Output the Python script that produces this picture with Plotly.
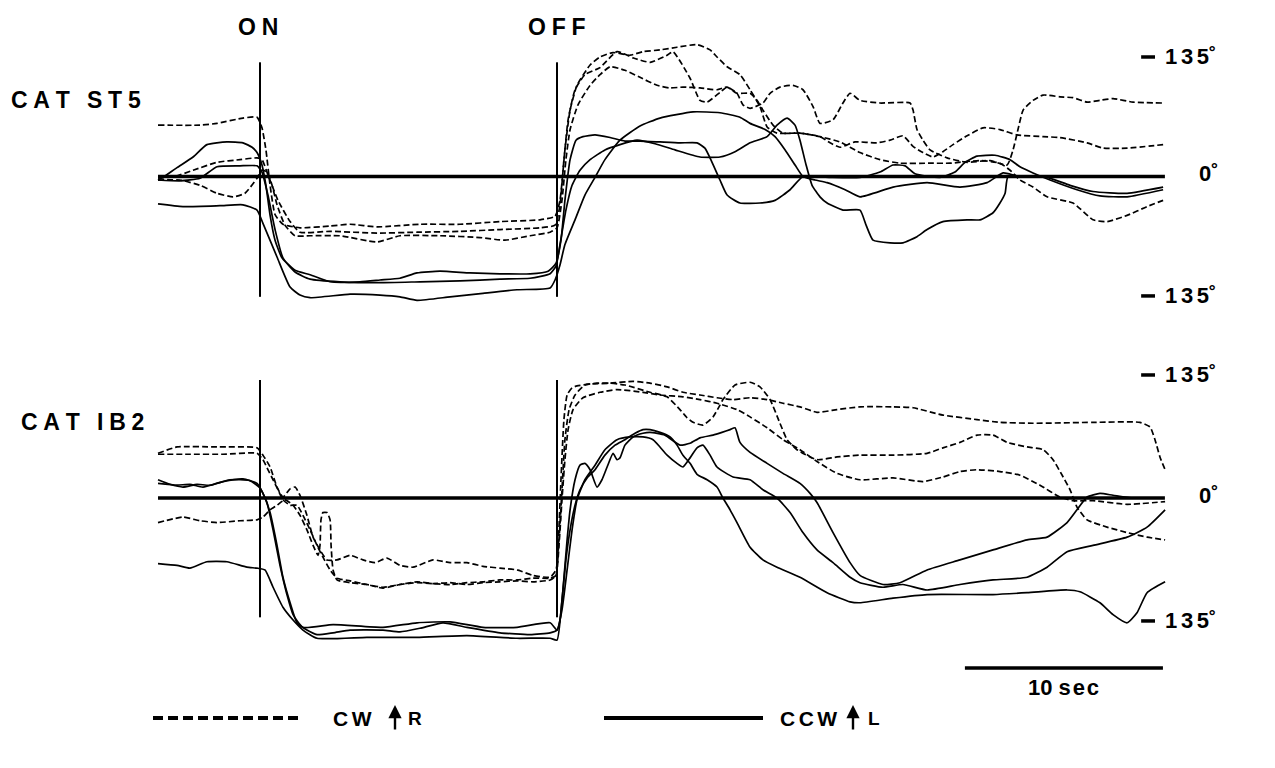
import plotly.graph_objects as go

# ---------------- data (time in s from stimulus ON, head angle in degrees) ----------------
ON_T, OFF_T = 0.0, 15.0
SCALE_BAR_S = 10.0
REC_START, REC_END = -5.15, 45.7

# CAT ST5 - CW (dashed)
st5_cw1 = [(-5.15,58),(-3.03,58),(-2.17,60),(-0.86,66),(-0.15,67),(0.10,55),(0.30,30),(0.51,-10),(0.76,-43),(1.16,-54),
           (2.02,-58),(3.54,-56),(4.55,-54),(5.91,-57),(8.08,-54),(10.10,-54),(12.12,-51),(14.14,-49),(14.90,-45),(15.15,-27),
           (15.40,30),(15.66,75),(16.01,103),(16.67,126),(17.17,135),(17.83,140),(18.69,137),(19.34,141),(20.20,143),(21.06,146),
           (22.07,149),(22.73,143),(23.08,135),(23.59,124),(24.24,115),(24.75,98),(25.25,79),(25.61,56),(26.11,49),(27.27,49),
           (28.28,45),(29.29,39),(30.30,27),(31.31,19),(32.32,15),(33.84,15),(34.85,15),(36.36,18),(37.37,15),(37.88,7),
           (38.38,-4),(39.04,-12),(39.75,-23),(41.06,-30),(42.07,-49),(42.78,-51),(43.79,-44),(44.80,-34),(45.61,-27)]
st5_cw2 = [(-5.15,-2),(-4.29,0),(-3.38,7),(-2.17,16),(-1.01,19),(-0.15,21),(0.10,19),(0.40,2),(0.91,-27),(1.52,-51),
           (2.02,-63),(3.54,-62),(5.91,-64),(7.93,-63),(10.10,-62),(12.12,-60),(14.14,-58),(14.90,-55),(15.15,-32),(15.35,19),
           (15.56,64),(15.91,98),(16.41,115),(17.17,123),(18.03,141),(18.84,134),(19.70,129),(20.56,137),(20.86,141),(21.72,111),
           (22.22,86),(22.58,84),(23.23,95),(23.59,101),(24.09,94),(24.39,81),(24.75,77),(25.40,83),(25.76,94),(26.26,101),
           (26.92,103),(27.42,98),(27.93,79),(28.28,60),(28.94,64),(29.44,83),(29.80,94),(30.30,86),(31.31,83),(32.83,83),
           (32.98,75),(33.18,53),(33.48,41),(33.84,30),(34.70,21),(35.71,16),(36.87,18),(37.73,13),(38.03,30),(38.28,53),
           (38.54,75),(39.04,86),(39.55,92),(40.40,90),(41.06,89),(41.77,84),(42.42,86),(43.08,88),(44.09,84),(45.61,83)]
st5_cw3 = [(-5.15,-4),(-4.04,-4),(-3.03,-10),(-2.17,-19),(-1.36,-23),(-0.76,-19),(-0.15,-2),(0.10,7),(0.35,5),(0.61,-10),
           (0.86,-32),(1.26,-55),(1.77,-67),(2.53,-67),(4.04,-67),(5.91,-74),(7.07,-67),(9.09,-67),(11.11,-69),(12.37,-72),
           (13.64,-67),(14.65,-63),(15.0,-58),(15.25,-27),(15.45,19),(15.66,53),(16.06,81),(16.67,103),(17.17,115),(17.68,124),
           (18.43,120),(19.19,112),(20.05,103),(20.71,100),(21.36,101),(22.22,100),(23.08,98),(23.59,101),(24.09,94),(24.75,94),
           (25.10,86),(25.40,75),(25.91,58),(26.41,49),(27.27,49),(28.28,45),(28.79,38),(29.29,33),(30.05,39),(31.16,38),
           (31.82,41),(32.47,46),(32.98,34),(33.48,27),(33.99,22),(34.49,28),(35.0,36),(35.71,46),(36.52,55),(37.37,53),
           (38.23,47),(39.55,45),(40.40,44),(41.77,38),(42.58,32),(43.79,32),(45.61,36)]

# CAT ST5 - CCW (solid)
st5_ccw1 = [(-5.15,-4),(-4.9,-1),(-4.19,10),(-3.38,22),(-2.68,36),(-1.67,39),(-0.86,38),(-0.40,33),(-0.15,27),(0.10,13),
            (0.30,-10),(0.51,-44),(0.76,-72),(1.11,-92),(1.77,-106),(2.53,-111),(3.54,-119),(5.05,-119),(6.06,-117),(7.07,-115),
            (7.93,-109),(9.09,-107),(10.61,-109),(12.12,-110),(13.64,-110),(14.55,-107),(14.95,-98),(15.20,-72),(15.40,-27),(15.66,19),
            (15.96,41),(16.31,45),(16.92,47),(17.68,44),(18.43,40),(19.19,40),(20.20,39),(21.21,38),(22.07,38),(22.47,32),
            (22.83,16),(23.23,-4),(23.59,-21),(24.24,-30),(25.25,-30),(26.01,-27),(26.77,-15),(27.42,0),(28.79,-1),(30.30,-1),
            (31.31,5),(31.97,13),(32.58,12),(33.08,3),(34.34,-1),(35.10,5),(35.61,16),(36.21,23),(37.12,24),(37.88,19),
            (38.38,11),(39.04,4),(39.90,-4),(41.26,-15),(42.42,-22),(43.79,-23),(45.61,-15)]
st5_ccw2 = [(-5.15,-4),(-4.04,-5),(-3.03,-2),(-2.17,11),(-1.01,12),(-0.15,12),(0.10,5),(0.40,-21),(0.76,-60),(1.16,-92),
            (1.77,-108),(2.53,-116),(4.04,-119),(6.06,-120),(8.08,-119),(10.10,-118),(12.12,-116),(13.64,-115),(14.65,-110),(14.95,-101),
            (15.15,-77),(15.45,-38),(15.76,-10),(16.16,7),(16.67,19),(17.42,30),(18.18,36),(19.04,41),(19.95,37),(20.96,30),
            (22.22,22),(23.23,22),(23.99,28),(24.75,38),(25.61,45),(26.11,58),(26.62,66),(27.02,58),(27.27,41),(27.58,13),
            (27.88,-10),(28.28,-23),(28.64,-30),(29.44,-38),(30.30,-38),(30.61,-55),(30.96,-72),(31.82,-75),(32.47,-75),(33.18,-68),
            (33.69,-60),(34.49,-51),(35.71,-49),(36.36,-49),(37.02,-41),(37.37,-30),(37.63,-19),(37.78,0),(38.89,0),(39.75,-1),
            (40.91,-10),(42.07,-17),(43.79,-19),(45.61,-12)]
st5_ccw3 = [(-5.15,-31),(-3.89,-34),(-2.02,-33),(-0.86,-32),(-0.15,-38),(0.15,-53),(0.86,-91),(1.52,-125),(2.02,-134),(2.53,-137),
            (4.55,-133),(6.06,-134),(7.07,-136),(7.93,-140),(9.60,-136),(11.26,-132),(12.98,-128),(14.65,-126),(14.90,-117),(15.15,-100),
            (15.40,-77),(15.91,-49),(16.41,-21),(16.92,-1),(17.42,19),(18.18,41),(19.19,57),(20.20,66),(21.87,73),(23.23,72),
            (24.24,67),(24.75,60),(25.51,53),(26.01,45),(26.52,30),(27.02,13),(27.42,0),(28.03,-4),(28.64,-7),(29.55,-15),
            (30.30,-23),(31.97,-12),(33.69,-7),(35.35,-12),(36.72,-7),(37.53,4),(38.38,0),(45.61,0)]

# CAT IB2 - CW (dashed)
ib2_cw1 = [(-5.15,49),(-4.19,56),(-2.17,56),(-0.15,55),(0.15,47),(0.51,34),(0.86,12),(1.16,1),(1.52,10),(1.77,12),
           (2.02,3),(2.37,-19),(2.68,-43),(3.03,-57),(3.38,-68),(3.89,-68),(4.55,-63),(5.20,-68),(5.81,-71),(6.41,-66),
           (7.07,-74),(7.73,-76),(8.74,-68),(9.60,-71),(10.45,-71),(11.26,-75),(12.12,-77),(12.98,-79),(13.79,-85),(14.65,-87),
           (14.95,-79),(15.10,-46),(15.25,9),(15.40,64),(15.61,97),(15.91,113),(16.41,124),(17.02,126),(17.68,126),(18.43,124),
           (19.70,116),(20.56,111),(21.21,97),(21.57,88),(21.87,83),(22.37,80),(22.88,89),(23.23,102),(23.38,108),(23.99,124),
           (24.75,127),(25.25,122),(25.76,108),(26.26,82),(26.62,64),(27.12,53),(28.13,42),(29.14,45),(30.30,47),(31.97,47),
           (33.69,49),(34.49,55),(35.35,61),(36.21,69),(37.02,69),(37.73,61),(38.74,56),(39.55,53),(40.05,42),(40.56,23),
           (40.91,9),(41.26,-10),(41.77,-24),(42.78,-32),(43.79,-38),(44.80,-43),(45.71,-46)]
ib2_cw2 = [(-5.15,48),(-3.54,48),(-1.87,48),(-0.15,49),(0.15,42),(0.40,31),(0.66,20),(0.91,9),(1.16,-2),(1.52,-8),
           (1.87,-8),(2.17,-19),(2.53,-35),(2.88,-52),(3.18,-65),(3.54,-79),(3.89,-88),(4.55,-91),(5.40,-95),(6.21,-98),
           (7.07,-95),(7.93,-93),(8.74,-94),(9.60,-95),(10.45,-93),(11.26,-92),(12.12,-90),(12.98,-90),(13.79,-88),(14.65,-88),
           (14.95,-85),(15.05,-57),(15.20,20),(15.35,86),(15.51,113),(15.76,121),(16.01,123),(16.67,125),(17.68,126),(18.84,128),
           (19.70,126),(20.56,122),(21.36,116),(22.22,113),(23.08,110),(23.89,108),(24.75,110),(25.61,108),(26.41,104),(27.27,100),
           (28.13,94),(29.14,97),(30.30,100),(31.97,100),(32.98,99),(34.49,91),(36.21,86),(37.37,83),(39.04,82),(42.07,83),
           (44.44,83),(44.95,78),(45.20,64),(45.45,45),(45.71,31)]
ib2_cw3 = [(-5.15,-27),(-3.89,-21),(-3.03,-25),(-2.17,-27),(-1.01,-25),(-0.15,-24),(0.15,-21),(0.51,-13),(0.86,-8),(1.26,-2),
           (1.67,-8),(2.02,-19),(2.37,-35),(2.68,-52),(2.93,-63),(3.03,-52),(3.08,-24),(3.18,-16),(3.38,-16),(3.54,-24),
           (3.59,-52),(3.69,-79),(3.89,-90),(4.55,-93),(5.40,-95),(6.21,-99),(7.07,-95),(7.93,-92),(8.74,-94),(9.60,-93),
           (10.45,-95),(11.26,-93),(12.12,-92),(12.98,-91),(13.79,-92),(14.65,-90),(14.95,-85),(15.10,-52),(15.25,-2),(15.40,42),
           (15.56,75),(15.81,97),(16.31,110),(17.17,116),(18.03,119),(19.34,116),(20.20,113),(21.36,111),(22.22,108),(23.08,104),
           (24.09,97),(24.75,89),(25.61,77),(26.41,64),(27.27,53),(28.13,40),(29.14,27),(30.30,20),(31.97,22),(33.48,18),
           (34.49,23),(35.35,29),(36.21,31),(37.37,29),(38.38,25),(39.39,14),(40.40,1),(41.06,-3),(42.07,-3),(43.79,-7),
           (45.71,-4)]

# CAT IB2 - CCW (solid)
ib2_ccw1 = [(-5.15,16),(-4.19,14),(-3.54,15),(-2.88,12),(-1.87,18),(-0.86,21),(-0.15,16),(0.15,5),(0.51,-16),(0.86,-52),
            (1.16,-87),(1.52,-115),(1.87,-137),(2.37,-145),(2.88,-150),(3.69,-148),(4.55,-145),(6.21,-145),(7.07,-147),(8.08,-143),
            (9.24,-137),(10.45,-142),(12.12,-148),(13.64,-150),(14.65,-148),(15.0,-145),(15.15,-134),(15.30,-101),(15.51,-46),(15.66,-13),
            (15.91,20),(16.16,36),(16.41,38),(16.67,31),(17.02,12),(17.27,20),(17.53,34),(17.83,49),(18.03,42),(18.18,44),
            (18.43,58),(18.84,67),(19.34,71),(19.70,72),(20.45,69),(21.21,58),(21.72,60),(22.22,66),(22.88,69),(23.33,72),
            (23.74,75),(23.99,77),(24.24,61),(24.75,50),(25.61,38),(26.41,27),(27.27,16),(27.78,5),(28.13,-5),(28.94,-38),
            (29.80,-71),(30.30,-85),(31.46,-95),(32.32,-93),(33.69,-79),(35.35,-68),(37.02,-57),(38.74,-46),(39.75,-43),(40.76,-27),
            (41.26,-13),(41.77,1),(42.42,5),(43.08,3),(44.09,0),(45.61,0)]
ib2_ccw2 = [(-5.15,20),(-4.55,15),(-3.89,12),(-3.18,15),(-2.53,14),(-1.52,20),(-0.51,19),(0.0,11),(0.35,-5),(0.66,-35),
            (1.01,-74),(1.36,-106),(1.67,-128),(2.17,-142),(3.69,-139),(6.21,-142),(7.93,-137),(9.60,-136),(11.26,-142),(12.98,-142),
            (14.65,-137),(15.0,-145),(15.25,-123),(15.51,-79),(15.76,-35),(16.01,-2),(16.41,20),(16.92,36),(17.42,53),(18.03,64),
            (18.69,67),(19.34,67),(19.85,64),(20.20,56),(20.56,47),(21.06,38),(21.36,34),(21.72,44),(22.07,55),(22.37,58),
            (22.73,47),(23.08,34),(23.89,23),(24.75,20),(25.40,9),(26.11,0),(26.77,-16),(27.42,-38),(28.13,-57),(28.94,-71),
            (29.80,-87),(30.30,-93),(31.46,-98),(32.47,-95),(33.69,-101),(35.35,-95),(37.02,-90),(38.74,-87),(39.75,-76),(40.76,-59),
            (42.07,-52),(43.79,-43),(44.80,-32),(45.71,-13)]
ib2_ccw3 = [(-5.15,-72),(-4.19,-74),(-3.54,-77),(-2.68,-70),(-1.67,-70),(-0.66,-76),(-0.15,-77),(0.25,-79),(0.66,-98),(1.16,-120),
            (1.67,-134),(2.17,-145),(2.88,-154),(5.40,-153),(7.93,-153),(10.45,-151),(12.98,-154),(14.65,-154),(15.0,-156),(15.25,-112),
            (15.45,-68),(15.66,-35),(15.91,-8),(16.16,9),(16.52,22),(16.92,31),(17.42,47),(17.93,58),(18.43,64),(18.94,71),
            (19.34,75),(19.70,75),(20.20,72),(20.71,67),(21.06,58),(21.36,47),(21.72,38),(22.07,26),(22.58,20),(23.08,12),
            (23.38,0),(23.74,-13),(24.09,-27),(24.75,-54),(25.40,-68),(26.11,-76),(27.27,-87),(28.64,-104),(29.80,-114),(30.30,-115),
            (31.97,-110),(33.69,-106),(37.02,-106),(38.74,-104),(40.76,-101),(41.41,-103),(42.42,-115),(43.08,-128),(43.79,-137),(44.29,-126),
            (44.80,-104),(45.71,-92)]

ANGLE_TICK = 135

# ---------------- figure ----------------
W, H = 1275, 768
FONT = "Liberation Sans, Arial, Helvetica, sans-serif"
fig = go.Figure()

def add(trace, dashed, axis):
    t = [p[0] for p in trace]
    d = [p[1] for p in trace]
    fig.add_trace(go.Scatter(
        x=t, y=d, mode="lines", yaxis=axis, hoverinfo="skip",
        line=dict(color="black", width=1.7, dash="6px,3px" if dashed else "solid",
                  shape="spline", smoothing=0.5)))

for tr in (st5_cw1, st5_cw2, st5_cw3):
    add(tr, True, "y")
for tr in (st5_ccw1, st5_ccw2, st5_ccw3):
    add(tr, False, "y")
for tr in (ib2_cw1, ib2_cw2, ib2_cw3):
    add(tr, True, "y2")
for tr in (ib2_ccw1, ib2_ccw2, ib2_ccw3):
    add(tr, False, "y2")

shapes = []
for yr, vtop, vbot in (("y", 129, -136), ("y2", 129.5, -131)):
    shapes.append(dict(type="line", xref="x", yref=yr, x0=REC_START, x1=REC_END, y0=0, y1=0,
                       line=dict(color="black", width=3.5)))
    for tt in (ON_T, OFF_T):
        shapes.append(dict(type="line", xref="x", yref=yr, x0=tt, x1=tt, y0=vbot, y1=vtop,
                           line=dict(color="black", width=2)))
    for v in (ANGLE_TICK, -ANGLE_TICK):
        shapes.append(dict(type="line", xref="x", yref=yr, x0=44.5, x1=45.2, y0=v, y1=v,
                           line=dict(color="black", width=3.5)))
# scale bar
shapes.append(dict(type="line", xref="x", yref="y2", x0=REC_END - 0.1 - SCALE_BAR_S, x1=REC_END - 0.1,
                   y0=-186.5, y1=-186.5, line=dict(color="black", width=3.5)))
# legend keys
ly = 1 - 718 / H
shapes.append(dict(type="line", xref="paper", yref="paper", x0=153 / W, x1=300 / W, y0=ly, y1=ly,
                   line=dict(color="black", width=4, dash="10px,5px")))
shapes.append(dict(type="line", xref="paper", yref="paper", x0=604 / W, x1=763 / W, y0=ly, y1=ly,
                   line=dict(color="black", width=4)))

def b(s):
    return "<b>" + s + "</b>"

anns = []
def txt(text, x, y, xref, yref, size=23, xanchor="center", yanchor="middle"):
    anns.append(dict(text=b(text), x=x, y=y, xref=xref, yref=yref, showarrow=False,
                     xanchor=xanchor, yanchor=yanchor, font=dict(family=FONT, size=size, color="black")))

txt("O\u2005N", ON_T - 0.1, 1 - 27 / H, "x", "paper")
txt("O\u2005F\u2005F", OFF_T, 1 - 27 / H, "x", "paper")
txt("C\u2005A\u2005T\u2005\u2005\u2005S\u2005T\u20055", 9 / W, 1 - 100 / H, "paper", "paper", xanchor="left")
txt("C\u2005A\u2005T\u2005\u2005\u2005I\u2005B\u20052", 19 / W, 1 - 422 / H, "paper", "paper", xanchor="left")
deg_lbl = "1\u20063\u20065\u02da"
for yr in ("y", "y2"):
    txt(deg_lbl, 1163 / W, ANGLE_TICK, "paper", yr, size=22, xanchor="left")
    txt(deg_lbl, 1163 / W, -ANGLE_TICK, "paper", yr, size=22, xanchor="left")
    txt("0\u02da", 1197 / W, 3, "paper", yr, size=22, xanchor="left")
txt("10 s\u200ae\u200ac", REC_END - 0.1 - SCALE_BAR_S / 2, -208, "x", "y2", size=22)
txt("C\u2006W", 331 / W, ly, "paper", "paper", size=21, xanchor="left")
txt("R", 406 / W, ly, "paper", "paper", size=19, xanchor="left")
txt("C\u2006C\u2006W", 778 / W, ly, "paper", "paper", size=21, xanchor="left")
txt("L", 866 / W, ly, "paper", "paper", size=19, xanchor="left")
for ax_px in (395, 853):
    anns.append(dict(text="", x=ax_px / W, y=1 - 705 / H, xref="paper", yref="paper",
                     showarrow=True, ax=0, ay=26, arrowhead=2, arrowsize=1.1, arrowwidth=2.4,
                     arrowcolor="black"))

fig.update_layout(
    width=W, height=H, margin=dict(l=0, r=0, t=0, b=0),
    paper_bgcolor="white", plot_bgcolor="white", showlegend=False,
    xaxis=dict(range=[-13.13, 51.26], visible=False, fixedrange=True),
    yaxis=dict(range=[-668.4, 199.4], visible=False, fixedrange=True),
    yaxis2=dict(range=[-296.4, 546.6], visible=False, overlaying="y", fixedrange=True),
    shapes=shapes, annotations=anns,
)
fig.write_html("out.html")
